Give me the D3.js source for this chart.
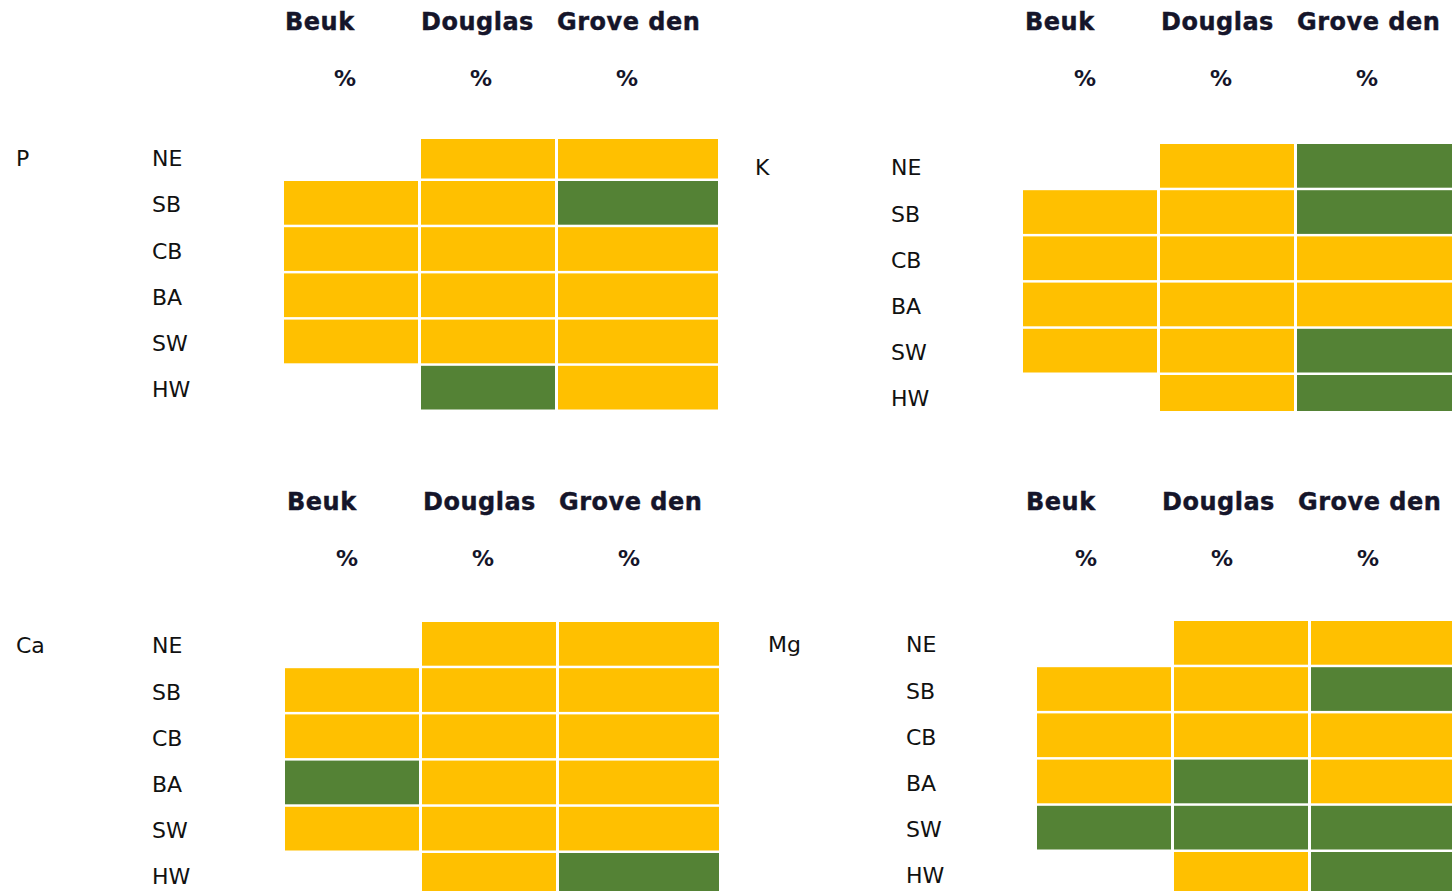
<!DOCTYPE html>
<html>
<head>
<meta charset="utf-8">
<script src="https://cdn.jsdelivr.net/npm/d3@7"></script>
<style>
  html, body { margin: 0; padding: 0; background: #fff; }
  svg { display: block; }
</style>
</head>
<body>
<svg id="chart" width="1452" height="891"></svg>
<script>
// rows, columns, panels
const regions = ["NE", "SB", "CB", "BA", "SW", "HW"]
const species = ["Beuk", "Douglas", "Grove den"]
const unitLabels = ["%", "%", "%"]
const elements = ["P", "K", "Ca", "Mg"]

// status per cell: "O" = orange class, "G" = green class, null = no value
const statusP = [
    [null, "O", "O"],
    ["O", "O", "G"],
    ["O", "O", "O"],
    ["O", "O", "O"],
    ["O", "O", "O"],
    [null, "G", "O"]
]
const statusK = [
    [null, "O", "G"],
    ["O", "O", "G"],
    ["O", "O", "O"],
    ["O", "O", "O"],
    ["O", "O", "G"],
    [null, "O", "G"]
]
const statusCa = [
    [null, "O", "O"],
    ["O", "O", "O"],
    ["O", "O", "O"],
    ["G", "O", "O"],
    ["O", "O", "O"],
    [null, "O", "G"]
]
const statusMg = [
    [null, "O", "O"],
    ["O", "O", "G"],
    ["O", "O", "O"],
    ["O", "G", "O"],
    ["G", "G", "G"],
    [null, "O", "G"]
]
const statusByElement = {P: statusP, K: statusK, Ca: statusCa, Mg: statusMg}

// layout of the four pasted tables
const layout = {
    P:  {labelX: 16,  rowLabelX: 152, gridX: 284,  rowTop: 134.8, clipTop: 139, clipBottom: 410, headX: 285,  headY: 30,  unitY: 86},
    K:  {labelX: 755, rowLabelX: 891, gridX: 1023, rowTop: 144,   clipTop: 139, clipBottom: 411, headX: 1025, headY: 30,  unitY: 86},
    Ca: {labelX: 16,  rowLabelX: 152, gridX: 285,  rowTop: 622,   clipTop: 600, clipBottom: 891, headX: 287,  headY: 510, unitY: 566},
    Mg: {labelX: 768, rowLabelX: 906, gridX: 1037, rowTop: 621,   clipTop: 600, clipBottom: 891, headX: 1026, headY: 510, unitY: 566}
}
const rowStep = 46.2
const rowGap = 2.5

const color = d3.scaleOrdinal(["O", "G"], ["#FFC000", "#548235"])
const colStart = d3.scaleOrdinal(species, [0, 137, 274])
const colWidth = d3.scaleOrdinal(species, [134, 134, 160])
const headOffset = d3.scaleOrdinal(species, [0, 136, 272])
const unitOffset = d3.scaleOrdinal(species, [60, 196, 342])

const svg = d3.select("#chart")
const defs = svg.append("defs")

elements.forEach(el => {
    const L = layout[el]
    const data = statusByElement[el]
    const g = svg.append("g").attr("class", "panel-" + el)

    const y = d3.scaleBand()
        .domain(regions)
        .range([L.rowTop, L.rowTop + regions.length * rowStep - rowGap])
        .paddingInner(rowGap / rowStep)

    // column headers
    g.selectAll(".head")
        .data(species)
        .join("text")
        .attr("class", "head")
        .attr("x", d => L.headX + headOffset(d))
        .attr("y", L.headY)
        .style("font-family", "'DejaVu Sans', Verdana, sans-serif")
        .style("font-weight", "bold")
        .style("font-size", "24px")
        .style("letter-spacing", "0.5px")
        .style("fill", "#15152a")
        .style("stroke", "#15152a")
        .style("stroke-width", "0.4px")
        .text(d => d)

    g.selectAll(".unit")
        .data(species)
        .join("text")
        .attr("class", "unit")
        .attr("x", d => L.headX + unitOffset(d))
        .attr("y", L.unitY)
        .attr("text-anchor", "middle")
        .style("font-family", "'DejaVu Sans', Verdana, sans-serif")
        .style("font-weight", "bold")
        .style("font-size", "22px")
        .style("fill", "#15152a")
        .text((d, i) => unitLabels[i])

    // element name and row labels
    const labelFont = sel => sel
        .style("font-family", "'DejaVu Sans', Verdana, sans-serif")
        .style("font-size", "22px")
        .style("fill", "#111")

    g.append("text")
        .attr("x", L.labelX)
        .attr("y", y("NE") + y.bandwidth() / 2 + 9.5)
        .call(labelFont)
        .text(el)

    g.selectAll(".rowlabel")
        .data(regions)
        .join("text")
        .attr("class", "rowlabel")
        .attr("x", L.rowLabelX)
        .attr("y", d => y(d) + y.bandwidth() / 2 + 9.5)
        .call(labelFont)
        .text(d => d)

    // cells, clipped like the cropped tables
    const clipId = "clip-" + el
    defs.append("clipPath").attr("id", clipId)
        .append("rect")
        .attr("x", L.gridX - 2)
        .attr("y", L.clipTop)
        .attr("width", 1452 - L.gridX + 2)
        .attr("height", L.clipBottom - L.clipTop)

    const cells = []
    regions.forEach((r, i) => {
        species.forEach((s, j) => {
            if (data[i][j]) cells.push({region: r, species: s, status: data[i][j]})
        })
    })

    g.append("g")
        .attr("clip-path", "url(#" + clipId + ")")
        .selectAll("rect")
        .data(cells)
        .join("rect")
        .attr("x", d => L.gridX + colStart(d.species))
        .attr("y", d => y(d.region))
        .attr("width", d => colWidth(d.species))
        .attr("height", y.bandwidth())
        .style("fill", d => color(d.status))
})
</script>
</body>
</html>
